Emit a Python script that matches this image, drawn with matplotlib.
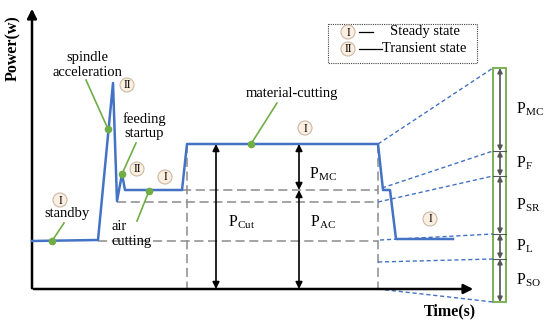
import matplotlib.pyplot as plt
import matplotlib.patches as mpatches
import matplotlib

matplotlib.rcParams["font.family"] = "Liberation Serif"
matplotlib.rcParams["mathtext.fontset"] = "custom"
matplotlib.rcParams["mathtext.rm"] = "Liberation Serif"

# schematic power curve (time, power) in picture units, y grows downwards
curve_t = [32, 98, 113, 117, 122, 125, 182, 187, 378, 383, 390, 396, 453]
curve_p = [241, 240, 83, 201, 174, 190, 190, 144, 144, 190, 190, 239, 239]

# power levels
lvl_cut = 144
lvl_air = 190
lvl_dip = 202
lvl_standby = 241
lvl_zero = 289

# right-hand breakdown bar: boundaries and labels
bar_edges = [68, 151, 176, 234, 259, 302]
bar_labels = ["MC", "F", "SR", "L", "SO"]
# where the blue dashed leaders start on the chart
leader_start = [(378, 144), (382, 188), (378, 202), (380, 240), (378, 262), (378, 289)]

# state markers (x, y, numeral)
states = [(60, 200, "I"), (127, 85, "II"), (137, 169, "II"), (165, 177, "I"),
          (305, 128, "I"), (430, 219, "I")]

# annotations: text lines, text anchor, line start, dot
notes = [
    (["standby"], (67, 214), (64, 223), (52, 241)),
    (["spindle", "acceleration"], (87, 58), (86, 80), (108, 129)),
    (["feeding", "startup"], (144, 119), (136, 143), (122, 174)),
    (["material-cutting"], (292, 93), (277, 103), (251, 144)),
]

BLUE = "#4472c4"
GREEN = "#70ad47"
GRAY = "#8c8c8c"
FS = 10.5

fig = plt.figure(figsize=(5.5, 3.23), dpi=100)
ax = fig.add_axes([0, 0, 1, 1])
ax.set_xlim(0, 550)
ax.set_ylim(323, 0)
ax.axis("off")


def circ(x, y, s, fs=8.5):
    ax.add_patch(mpatches.Circle((x, y), 7, facecolor="#fcefe0", edgecolor="#c9b9a6", lw=0.8, zorder=5))
    ax.text(x, y + 0.5, s, ha="center", va="center", fontsize=fs, zorder=6)


# axes arrows
ax.annotate("", xy=(32, 6), xytext=(32, 291),
            arrowprops=dict(arrowstyle="-|>", color="black", lw=1.8, mutation_scale=14))
ax.annotate("", xy=(476, lvl_zero), xytext=(31, lvl_zero),
            arrowprops=dict(arrowstyle="-|>", color="black", lw=1.8, mutation_scale=14))
ax.text(13, 48, "Power(w)", rotation=90, ha="center", va="center", fontsize=11.5, weight="bold")
ax.text(450, 311, "Time(s)", ha="center", va="center", fontsize=11.5, weight="bold")

# gray dashed reference lines
dash = dict(color=GRAY, lw=1.1, ls=(0, (6, 3)), zorder=1)
ax.plot([182, 378], [lvl_air, lvl_air], **dash)
ax.plot([117, 378], [lvl_dip, lvl_dip], **dash)
ax.plot([98, 378], [lvl_standby, lvl_standby], **dash)
ax.plot([187, 187], [lvl_cut, lvl_zero], **dash)
ax.plot([378, 378], [lvl_cut, lvl_zero], **dash)

# power curve
ax.plot(curve_t, curve_p, color=BLUE, lw=1.8, zorder=3)

# double arrows
arr = dict(arrowstyle="<|-|>", color="black", lw=1.2, mutation_scale=10, shrinkA=0, shrinkB=0)
ax.annotate("", xy=(216, lvl_cut), xytext=(216, lvl_zero), arrowprops=arr)
ax.annotate("", xy=(299, lvl_cut), xytext=(299, lvl_air), arrowprops=arr)
ax.annotate("", xy=(299, lvl_air), xytext=(299, lvl_zero), arrowprops=arr)
ax.text(242, 222, r"P$_{\rm Cut}$", ha="center", va="center", fontsize=FS + 1)
ax.text(323, 174, r"P$_{\rm MC}$", ha="center", va="center", fontsize=FS + 1)
ax.text(323, 222, r"P$_{\rm AC}$", ha="center", va="center", fontsize=FS + 1)

# right breakdown bar
ax.add_patch(mpatches.Rectangle((493, bar_edges[0]), 13, bar_edges[-1] - bar_edges[0],
                                fill=False, edgecolor=GREEN, lw=1.3, zorder=2))
for y0, y1, lab in zip(bar_edges[:-1], bar_edges[1:], bar_labels):
    ax.annotate("", xy=(500, y0), xytext=(500, y1),
                arrowprops=dict(arrowstyle="<|-|>", color="#555555", lw=1.2,
                                mutation_scale=7, shrinkA=0, shrinkB=0))
    ax.text(516, (y0 + y1) / 2, r"P$_{\rm %s}$" % lab, ha="left", va="center", fontsize=FS + 1)
for y in bar_edges[1:-1]:
    ax.plot([493, 506], [y, y], color="#555555", lw=0.8)
for (x0, y0), y1 in zip(leader_start, bar_edges):
    ax.plot([x0, 493], [y0, y1], color=BLUE, lw=1.0, ls=(0, (3, 2)), zorder=2)

# green annotations
for lines, (tx, ty), (lx, ly), (dx, dy) in notes:
    ax.plot([lx, dx], [ly, dy], color=GREEN, lw=1.2, zorder=4)
    ax.plot(dx, dy, "o", color=GREEN, ms=4.5, zorder=4)
    for k, s in enumerate(lines):
        ax.text(tx, ty + k * 15, s, ha="center", va="center", fontsize=FS)
ax.plot([137, 149], [221, 191], color=GREEN, lw=1.2, zorder=4)
ax.plot(149, 191, "o", color=GREEN, ms=4.5, zorder=4)
ax.text(112, 227, "air", ha="left", va="center", fontsize=FS)
ax.text(112, 242, "cutting", ha="left", va="center", fontsize=FS)

for x, y, s in states:
    circ(x, y, s)

# legend box
ax.add_patch(mpatches.Rectangle((328, 24), 149, 39, fill=False, edgecolor="#444444",
                                lw=0.8, ls=(0, (1, 1))))
circ(348, 32, "I")
circ(348, 49, "II")
ax.plot([359, 373], [32, 32], color="black", lw=0.9)
ax.plot([359, 382], [49, 49], color="black", lw=0.9)
ax.text(390, 32, "Steady state", ha="left", va="center", fontsize=FS)
ax.text(382, 49, "Transient state", ha="left", va="center", fontsize=FS)

fig.savefig("out.png", dpi=100)
